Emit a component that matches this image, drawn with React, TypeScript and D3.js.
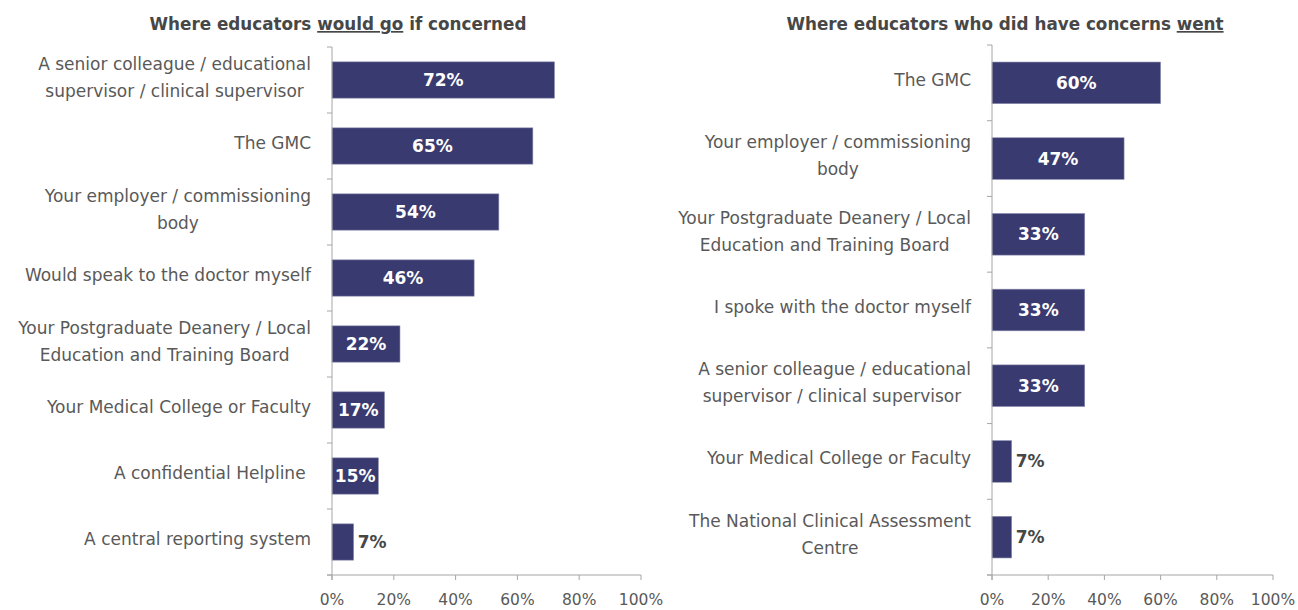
import React from "react";
import * as d3 from "d3";

const leftCategories = [
  "A senior colleague / educational\nsupervisor / clinical supervisor",
  "The GMC",
  "Your employer / commissioning\nbody",
  "Would speak to the doctor myself",
  "Your Postgraduate Deanery / Local\nEducation and Training Board",
  "Your Medical College or Faculty",
  "A confidential Helpline\u00a0",
  "A central reporting system",
];
const leftValues = [72, 65, 54, 46, 22, 17, 15, 7];

const rightCategories = [
  "The GMC",
  "Your employer / commissioning\nbody",
  "Your Postgraduate Deanery / Local\nEducation and Training Board",
  "I spoke with the doctor myself",
  "A senior colleague / educational\nsupervisor / clinical supervisor\u00a0",
  "Your Medical College or Faculty",
  "The National Clinical Assessment\nCentre",
];
const rightValues = [60, 47, 33, 33, 33, 7, 7];

const xTicks = [0, 20, 40, 60, 80, 100];

const FONT = '"DejaVu Sans", sans-serif';
const LABEL_SIZE = 17;
const BAR = "#393A70";
const AXIS = "#A6A6A6";
const TEXT = "#595959";
const DARK = "#474747";

let ctx: CanvasRenderingContext2D | null = null;
function measure(s: string, font: string) {
  if (!ctx) ctx = document.createElement("canvas").getContext("2d");
  if (!ctx) return s.length * 9;
  ctx.font = font;
  return ctx.measureText(s).width;
}

type PanelProps = {
  cats: string[];
  vals: number[];
  x0: number;
  x1: number;
  y0: number;
  y1: number;
  labelRight: number;
  titleX: number;
  title: React.ReactNode;
};

function Panel({ cats, vals, x0, x1, y0, y1, labelRight, titleX, title }: PanelProps) {
  const x = d3.scaleLinear().domain([0, 100]).range([x0, x1]);
  const y = d3
    .scaleBand<number>()
    .domain(d3.range(cats.length))
    .range([y0, y1])
    .paddingInner(0.45)
    .paddingOuter(0.225);
  const step = y.step();
  const labelFont = `${LABEL_SIZE}px ${FONT}`;
  const lineH = 27;
  return (
    <g>
      <text
        x={titleX}
        y={30}
        textAnchor="middle"
        fontFamily={FONT}
        fontWeight="bold"
        fontSize={16.8}
        fill={DARK}
      >
        {title}
      </text>
      {vals.map((v, i) => (
        <rect
          key={i}
          x={x(0)}
          y={y(i)!}
          width={x(v) - x(0)}
          height={y.bandwidth()}
          fill={BAR}
          stroke="#8E8FB0"
          strokeWidth={0.6}
        />
      ))}
      <line x1={x0} x2={x0} y1={y0} y2={y1 + 5} stroke={AXIS} strokeWidth={1} />
      <line x1={x0 - 5} x2={x1} y1={y1} y2={y1} stroke={AXIS} strokeWidth={1} />
      {d3.range(cats.length + 1).map((i) => (
        <line
          key={"yt" + i}
          x1={x0 - 5}
          x2={x0}
          y1={y0 + i * step}
          y2={y0 + i * step}
          stroke={AXIS}
        />
      ))}
      {xTicks.map((t) => (
        <g key={"xt" + t}>
          <line x1={x(t)} x2={x(t)} y1={y1} y2={y1 + 5} stroke={AXIS} />
          <text
            x={x(t)}
            y={y1 + 30}
            textAnchor="middle"
            fontFamily={FONT}
            fontSize={15.5}
            fill={TEXT}
          >
            {t}%
          </text>
        </g>
      ))}
      {cats.map((c, i) => {
        const lines = c.split("\n");
        const w = Math.max(...lines.map((l) => measure(l, labelFont)));
        const cx = labelRight - w / 2;
        const cy = y(i)! + y.bandwidth() / 2 - 3;
        const startY = cy - ((lines.length - 1) * lineH) / 2;
        return (
          <text
            key={"c" + i}
            textAnchor="middle"
            fontFamily={FONT}
            fontSize={LABEL_SIZE}
            fill={TEXT}
            dominantBaseline="central"
          >
            {lines.map((l, j) => (
              <tspan key={j} x={cx} y={startY + j * lineH}>
                {l}
              </tspan>
            ))}
          </text>
        );
      })}
      {vals.map((v, i) => {
        const label = `${v}%`;
        const barW = x(v) - x(0);
        const inside = v >= 10;
        const cy = y(i)! + y.bandwidth() / 2;
        return (
          <text
            key={"v" + i}
            x={inside ? x(0) + barW / 2 : x(v) + 4}
            y={cy}
            textAnchor={inside ? "middle" : "start"}
            dominantBaseline="central"
            fontFamily={FONT}
            fontWeight="bold"
            fontSize={17}
            fill={inside ? "#FFFFFF" : DARK}
          >
            {label}
          </text>
        );
      })}
    </g>
  );
}

export default function App() {
  return (
    <svg
      width={1298}
      height={610}
      style={{ position: "absolute", left: 0, top: 0, background: "#fff" }}
    >
      <Panel
        cats={leftCategories}
        vals={leftValues}
        x0={332}
        x1={641}
        y0={47}
        y1={575}
        labelRight={311}
        titleX={338}
        title={
          <>
            Where educators{" "}
            <tspan style={{ textDecoration: "underline" }}>would go</tspan> if
            concerned
          </>
        }
      />
      <Panel
        cats={rightCategories}
        vals={rightValues}
        x0={992}
        x1={1273}
        y0={45}
        y1={575}
        labelRight={971}
        titleX={1005}
        title={
          <>
            Where educators who did have concerns{" "}
            <tspan style={{ textDecoration: "underline" }}>went</tspan>
          </>
        }
      />
    </svg>
  );
}
